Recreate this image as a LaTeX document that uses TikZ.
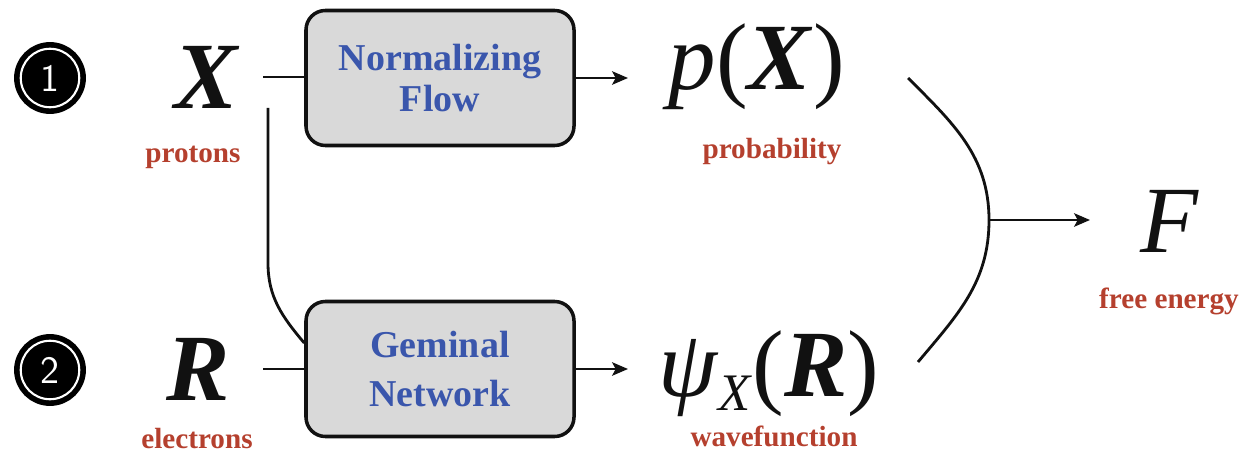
\documentclass[tikz,border=0pt]{standalone}
\usepackage{amsmath}
\usepackage{fontspec}
\setmainfont{Liberation Serif}
\usetikzlibrary{arrows.meta,positioning}
\definecolor{ink}{HTML}{111111}
\definecolor{tagred}{HTML}{B5402E}
\definecolor{netblue}{HTML}{3A56AC}
\definecolor{boxgray}{HTML}{D9D9D9}
\newcommand{\bivar}[1]{\textbf{\textit{#1}}}

\begin{document}
\begin{tikzpicture}[>={Stealth[length=4.5pt,width=3.8pt,inset=1pt]}]
 \tikzstyle{badge}=[circle,fill=black,draw=black,line width=1.6pt,double=white,double distance=0.6pt,minimum size=5.85mm,inner sep=0pt,text=white,font=\fontsize{11}{13}\selectfont\sffamily]
 \tikzstyle{sym}=[font=\fontsize{27}{31}\selectfont,anchor=base,inner sep=0pt,text=ink]
 \tikzstyle{tag}=[font=\fontsize{8.3}{10}\selectfont\bfseries,text=tagred,anchor=base,inner sep=0pt]
 \tikzstyle{netbox}=[rectangle,rounded corners=5.5pt,draw=ink,line width=1pt,fill=boxgray,minimum width=2.68cm,minimum height=1.35cm,align=center,font=\fontsize{10.8}{11.4}\selectfont\bfseries,text=netblue]
 \tikzstyle{wire}=[line width=0.8pt,draw=ink]
 \useasboundingbox (0,0) rectangle (12.45,4.53);
 % row numbers
 \node[badge] (one) at (0.50,3.75) {1};
 \node[badge] (two) at (0.50,0.83) {2};
 % inputs
 \node[sym,anchor=base east,inner xsep=2.3mm] (X) at (2.63,3.45) {\bivar{X}};
 \node[sym,anchor=base east,inner xsep=3.3mm] (R) at (2.63,0.53) {\bivar{R}};
 \node[tag] (protons) at (1.93,2.90) {protons};
 \node[tag] (electrons) at (1.97,0.05) {electrons};
 % networks
 \node[netbox] (flow) at (4.40,3.75) {Normalizing\\Flow};
 \node[netbox] (gem) at (4.40,0.84) {Geminal\\[2.8pt]Network};
 % outputs
 \node[sym,anchor=base west,inner xsep=4mm] (pX) at (6.28,3.63) {\textit{p}(\bivar{X})};
 \node[sym,anchor=base west,inner xsep=3mm] (psi) at (6.28,0.57)
  {\textit{ψ}\raisebox{-4pt}{\fontsize{15}{17}\selectfont\textit{X}}(\bivar{R})};
 \node[tag] (prob) at (7.72,2.95) {probability};
 \node[tag] (wave) at (7.74,0.07) {wavefunction};
 \node[sym,anchor=base west,inner xsep=5mm] (F) at (10.90,2.01) {\textit{F}};
 \node[tag] (energy) at (11.69,1.45) {free energy};
 % connectors
 \draw[wire] (X.east) -- (X.east -| flow.west);
 \draw[wire] (R.east) -- (R.east -| gem.west);
 \draw[wire,->] (flow.east) -- (flow.east -| pX.west);
 \draw[wire,->] (gem.east) -- (gem.east -| psi.west);
 \coordinate (fork) at (2.68,3.45);
 \draw[wire] (fork) -- ++(0,-1.55) to[out=-90,in=130] ([yshift=2.6mm]gem.west);
 % merge bracket
 \coordinate (mtop) at (9.08,3.75);
 \coordinate (mbot) at (9.18,0.91);
 \coordinate (merge) at (9.89,2.33);
 \draw[wire] (mtop) to[out=-45,in=90] (merge) to[out=-90,in=50] (mbot);
 \draw[wire,->] (merge) -- (merge -| F.west);
\end{tikzpicture}
\end{document}
